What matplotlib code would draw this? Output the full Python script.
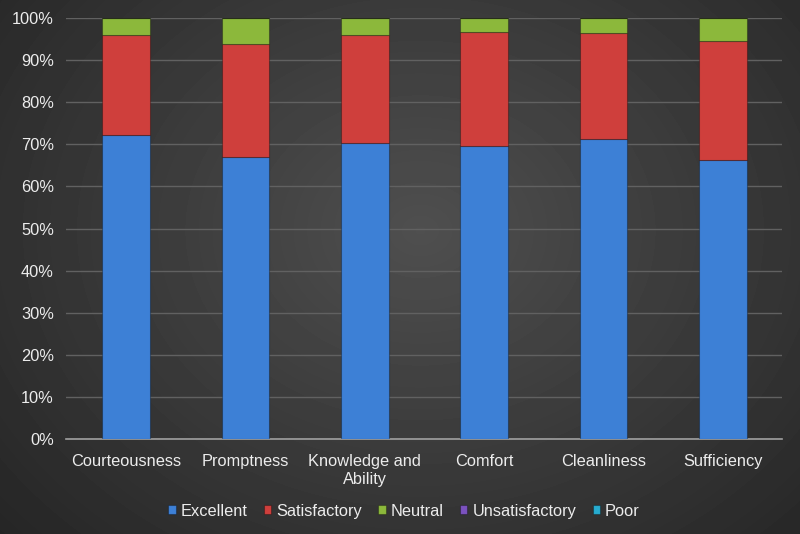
import numpy as np
import matplotlib
matplotlib.use("Agg")
import matplotlib.pyplot as plt

categories = ["Courteousness", "Promptness", "Knowledge and\nAbility", "Comfort", "Cleanliness", "Sufficiency"]
excellent = [72.2, 66.9, 70.4, 69.7, 71.3, 66.4]
satisfactory = [23.8, 27.0, 25.6, 26.9, 25.1, 28.2]
neutral = [4.0, 6.1, 4.0, 3.4, 3.6, 5.4]
unsatisfactory = [0.0, 0.0, 0.0, 0.0, 0.0, 0.0]
poor = [0.0, 0.0, 0.0, 0.0, 0.0, 0.0]
series_names = ["Excellent", "Satisfactory", "Neutral", "Unsatisfactory", "Poor"]
yticks = [0, 10, 20, 30, 40, 50, 60, 70, 80, 90, 100]

colors = ["#3d80d6", "#cf3f3c", "#8cb83b", "#7b52bf", "#27acd0"]

plt.rcParams['font.family'] = ['Liberation Sans', 'DejaVu Sans']
fig = plt.figure(figsize=(8, 5.34), dpi=100)

# background radial gradient
bg = fig.add_axes([0, 0, 1, 1], zorder=-10)
yy, xx = np.mgrid[0:534, 0:800]
r = np.sqrt(((xx - 420) / 520.0) ** 2 + ((yy - 230) / 420.0) ** 2)
val = np.clip(0.31 - 0.15 * r, 0.14, 0.31)
bg.imshow(val, cmap="gray", vmin=0, vmax=1, aspect="auto", extent=[0, 1, 0, 1])
bg.axis("off")

ax = fig.add_axes([0.083, 0.178, 0.895, 0.788])
ax.set_facecolor("none")
x = np.arange(len(categories))
data = [excellent, satisfactory, neutral, unsatisfactory, poor]
bottom = np.zeros(len(categories))
for name, vals, c in zip(series_names, data, colors):
    vals = np.array(vals)
    ax.bar(x, vals, 0.4, bottom=bottom, color=c, label=name,
           edgecolor=matplotlib.colors.to_rgba("black", 0.3), linewidth=0.8, zorder=3)
    bottom = bottom + vals

ax.set_xlim(-0.5, len(categories) - 0.5)
ax.set_ylim(0, 100)
ax.set_yticks(yticks)
ax.set_yticklabels([f"{v}%" for v in yticks])
ax.yaxis.grid(True, color="#616161", linewidth=1.0, zorder=0)
ax.set_axisbelow(True)
for s in ["left", "right", "top"]:
    ax.spines[s].set_visible(False)
ax.spines["bottom"].set_color("#a0a0a0")
ax.spines["bottom"].set_linewidth(1.2)
ax.set_xticks(x)
ax.set_xticklabels(categories)
ax.tick_params(axis="both", length=0, colors="#ececec", labelsize=11.8)
ax.tick_params(axis="x", pad=11)
ax.tick_params(axis="y", pad=9)

handles, labels = ax.get_legend_handles_labels()
leg = fig.legend(handles, labels, loc="center", bbox_to_anchor=(0.505, 0.043), ncol=5,
                 frameon=False, fontsize=11.8, handlelength=0.45, handleheight=0.45,
                 handletextpad=0.3, columnspacing=1.0, labelcolor="#ececec")

fig.savefig("out.png", dpi=100)
